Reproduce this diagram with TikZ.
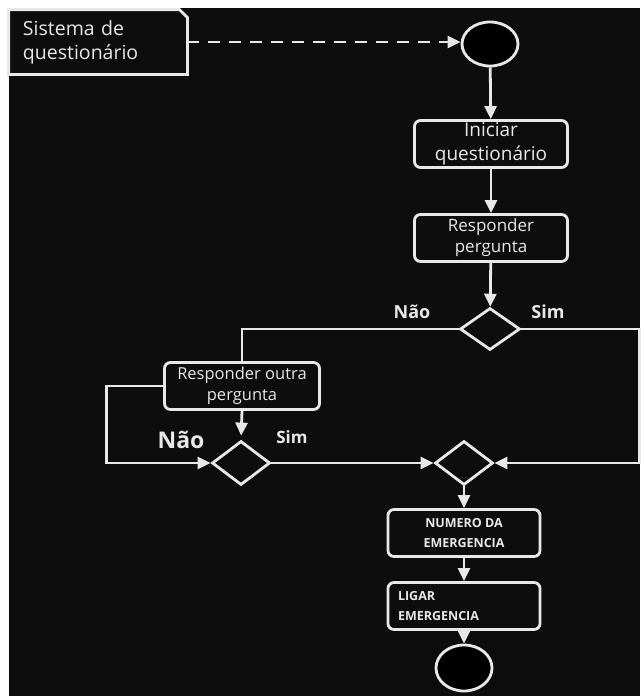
\documentclass[tikz,border=0pt]{standalone}
\usepackage{fontspec}
\setmainfont{Open Sans}
\usetikzlibrary{arrows.meta,shapes.geometric}
\definecolor{bg}{HTML}{0D0D0D}
\definecolor{fg}{HTML}{E8E8E8}
\begin{document}
\begin{tikzpicture}[x=1pt,y=-1pt,line width=2.8pt,color=fg,
    >={Triangle[length=13pt,width=12pt]},
    act/.style={draw,rounded corners=6pt,minimum width=153pt,minimum height=47pt,
      align=center,inner sep=2pt,font=\fontsize{16}{20}\selectfont},
    caps/.style={act,font=\fontsize{12.5}{20}\selectfont\bfseries},
    choice/.style={draw,diamond,inner sep=0pt,minimum width=60pt,minimum height=42pt},
    dot/.style={draw,ellipse,fill=black,minimum width=56pt,minimum height=44pt},
    lbl/.style={font=\fontsize{18}{18}\selectfont\bfseries}]
    \useasboundingbox (0,0) rectangle (643,696);
    \fill[white] (0,0) rectangle (643,696);
    \fill[bg] (9,8) rectangle (640,696);
    % note
    \node[text width=150pt,align=left,inner xsep=13pt,minimum height=62pt,
      font=\fontsize{19.5}{24}\selectfont] (note) at (98,42) {Sistema de\\questionário};
    \draw (note.north west) -- ([xshift=-8pt]note.north east)
      -- ([yshift=-8pt]note.north east) -- (note.south east)
      -- (note.south west) -- cycle;
    % nodes
    \node[dot] (start) at (490,44) {};
    \node[act,font=\fontsize{19}{24}\selectfont] (ini) at (491,144) {Iniciar\\questionário};
    \node[act,font=\fontsize{17}{21}\selectfont] (resp) at (491,238) {Responder\\pergunta};
    \node[choice] (d1) at (490,329) {};
    \node[act,minimum width=155pt,font=\fontsize{16.5}{21}\selectfont] (outra) at (242,386) {Responder outra\\pergunta};
    \node[choice,minimum width=58pt,minimum height=44pt] (d2) at (241,463) {};
    \node[choice,minimum width=58pt,minimum height=44pt] (d3) at (464,463) {};
    \node[caps,minimum width=152pt] (num) at (464,533) {NUMERO DA\\EMERGENCIA};
    \node[caps,minimum width=152pt,align=left,text width=132pt] (ligar) at (464,606) {LIGAR\\EMERGENCIA};
    \node[dot,minimum height=46pt] (stop) at (464,668) {};
    % labels
    \node[lbl] at (412,312) {Não};
    \node[lbl] at (548,312) {Sim};
    \node[lbl,font=\fontsize{23}{23}\selectfont\bfseries] at (181,440) {Não};
    \node[lbl,font=\fontsize{17}{17}\selectfont\bfseries] at (292,437) {Sim};
    % connectors
    \draw[->,dash pattern=on 12pt off 9pt] (note.east) -- (note.east -| start.west);
    \draw[->] (start) -- (ini);
    \draw[->] (ini) -- (resp);
    \draw[->] (resp) -- (d1);
    \draw (d1.west) -| (outra.north);
    \draw[->] (d1.east) -- ++(118,0) |- (d3.east);
    \draw[->,shorten >=4pt] (outra.south) -- (d2.north);
    \draw[->] (outra.west) -- ++(-57,0) |- (d2.west);
    \draw[->] (d2.east) -- (d3.west);
    \draw[->] (d3.south) -- (num.north);
    \draw[->] (num) -- (ligar);
    \draw[->] (ligar) -- (stop);
\end{tikzpicture}
\end{document}
